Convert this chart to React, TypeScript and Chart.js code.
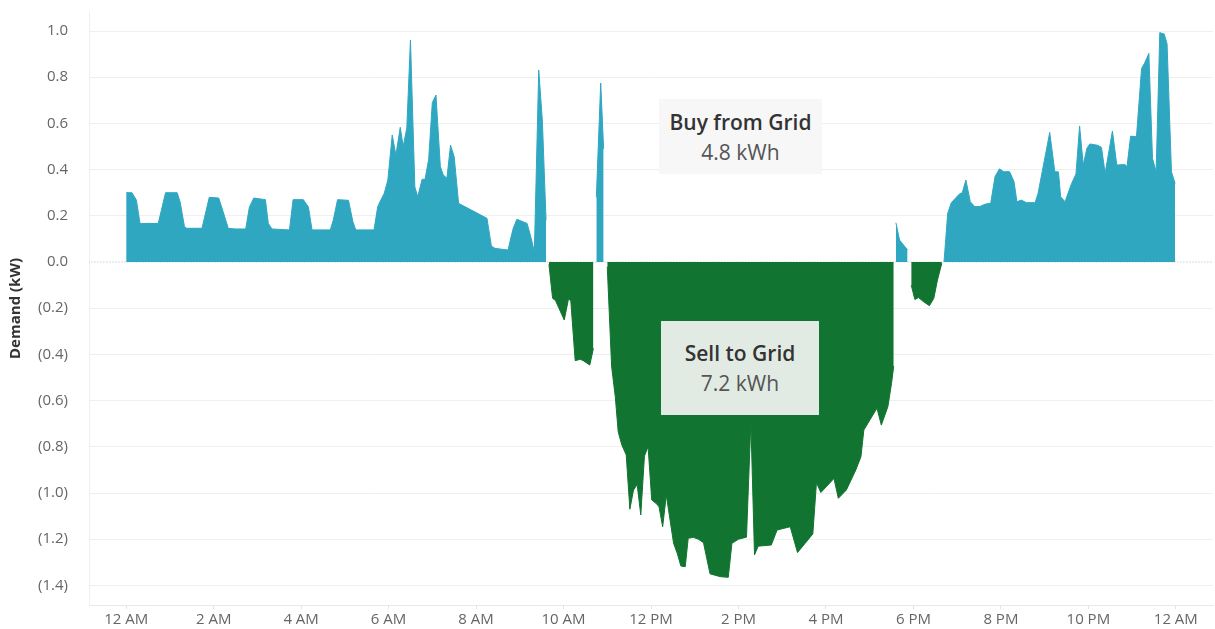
import React, { useEffect, useRef } from 'react';
import { Chart, registerables } from 'chart.js';

Chart.register(...registerables);

// ---- Data (minutes since midnight, kW) ----
// Buy from grid (positive demand); null separates segments
const buyMinutes = [
  0, 8, 14, 19, 44, 54, 70, 74, 80, 83,
  104, 114, 127, 133, 140, 150, 164, 169, 175, 191,
  195, 200, 224, 229, 243, 250, 255, 280, 284, 290,
  305, 311, 315, 340, 345, 348, 354, 359, 365, 370,
  376, 380, 385, 390, 396, 400, 406, 410, 415, 420,
  425, 431, 435, 440, 445, 450, 456, 495, 501, 506,
  524, 527, 531, 536, 550, 555, 560, 566, 571, 576,
  610,
  645, 651, 655,
  900,
  1056, 1061, 1072,
  1100,
  1122, 1127, 1132, 1143, 1147, 1152, 1158, 1164, 1171, 1179,
  1186, 1192, 1198, 1204, 1212, 1218, 1222, 1228, 1235, 1247,
  1251, 1267, 1274, 1279, 1282, 1288, 1297, 1303, 1308, 1313,
  1318, 1322, 1333, 1338, 1343, 1353, 1359, 1370, 1373, 1378,
  1386, 1393, 1397, 1403, 1408, 1413, 1418, 1424, 1428, 1434,
  1439,
];
const buyKw = [
  0.30, 0.30, 0.268, 0.167, 0.167, 0.30, 0.30, 0.26, 0.153, 0.146,
  0.146, 0.28, 0.277, 0.218, 0.146, 0.143, 0.143, 0.237, 0.277, 0.27,
  0.167, 0.143, 0.139, 0.27, 0.27, 0.238, 0.139, 0.139, 0.18, 0.27,
  0.267, 0.175, 0.139, 0.139, 0.238, 0.26, 0.297, 0.355, 0.55, 0.463,
  0.583, 0.5, 0.58, 0.961, 0.325, 0.283, 0.358, 0.358, 0.445, 0.69,
  0.723, 0.413, 0.377, 0.363, 0.506, 0.456, 0.254, 0.189, 0.069, 0.059,
  0.052, 0.095, 0.146, 0.185, 0.167, 0.11, 0.045, 0.831, 0.61, 0.18,
  null,
  0.28, 0.775, 0.49,
  null,
  0.17, 0.095, 0.052,
  null,
  0.0, 0.21, 0.257, 0.294, 0.3, 0.355, 0.261, 0.24, 0.24, 0.251,
  0.254, 0.37, 0.403, 0.391, 0.391, 0.348, 0.261, 0.268, 0.257, 0.257,
  0.297, 0.561, 0.391, 0.39, 0.283, 0.261, 0.34, 0.381, 0.589, 0.42,
  0.492, 0.511, 0.505, 0.496, 0.384, 0.567, 0.42, 0.422, 0.413, 0.545,
  0.542, 0.838, 0.86, 0.903, 0.449, 0.391, 0.993, 0.987, 0.944, 0.391,
  0.34,
];

// Sell to grid (negative demand)
const sellMinutes = [
  580, 585, 589, 601, 607, 610, 616, 623, 627, 636, 641,
  650,
  660, 666, 671, 675, 680, 686, 691, 696, 701, 706,
  711, 716, 721, 728, 731, 736, 741, 751, 756, 761,
  767, 771, 778, 785, 792, 801, 815, 826, 831, 840,
  851, 857, 862, 867, 885, 893, 911, 921, 942, 947,
  953, 971, 977, 988, 1001, 1008, 1012, 1030, 1036, 1045,
  1050, 1053,
  1065,
  1077, 1082, 1087, 1094, 1102, 1108, 1113, 1119,
];
const sellKw = [
  -0.01, -0.157, -0.167, -0.251, -0.157, -0.17, -0.427, -0.421, -0.427, -0.446, -0.374,
  null,
  -0.02, -0.453, -0.583, -0.735, -0.792, -0.835, -1.07, -0.987, -0.963, -1.095,
  -0.84, -0.8, -1.03, -1.048, -1.06, -1.146, -1.009, -1.218, -1.261, -1.316,
  -1.319, -1.196, -1.192, -1.2, -1.215, -1.35, -1.362, -1.365, -1.218, -1.2,
  -1.191, -0.693, -1.268, -1.23, -1.225, -1.16, -1.146, -1.258, -1.177, -0.955,
  -0.998, -0.937, -1.023, -0.987, -0.9, -0.843, -0.727, -0.633, -0.706, -0.626,
  -0.525, -0.45,
  null,
  -0.1, -0.162, -0.154, -0.172, -0.189, -0.157, -0.078, -0.005,
];

const xTickMinutes = [0, 120, 240, 360, 480, 600, 720, 840, 960, 1080, 1200, 1320, 1440];
const xTickLabels = ['12 AM', '2 AM', '4 AM', '6 AM', '8 AM', '10 AM', '12 PM', '2 PM', '4 PM', '6 PM', '8 PM', '10 PM', '12 AM'];
const yTickValues = [-1.4, -1.2, -1.0, -0.8, -0.6, -0.4, -0.2, 0, 0.2, 0.4, 0.6, 0.8, 1.0];

const annotationTitles = ['Buy from Grid', 'Sell to Grid'];
const annotationValues = ['4.8 kWh', '7.2 kWh'];

const BLUE = '#2fa7c1';
const GREEN = '#117430';
const FONT = '"Open Sans", "Noto Sans", sans-serif';

export default function App() {
  const ref = useRef<HTMLCanvasElement | null>(null);

  useEffect(() => {
    if (!ref.current) return;
    const toPts = (xs: number[], ys: (number | null)[]) => xs.map((x, i) => ({ x, y: ys[i] }));
    const chart = new Chart(ref.current, {
      type: 'line',
      data: {
        datasets: [
          {
            label: 'Buy from Grid',
            data: toPts(buyMinutes, buyKw) as any,
            fill: 'origin',
            backgroundColor: BLUE,
            borderColor: BLUE,
            borderWidth: 1,
            pointRadius: 0,
            tension: 0,
            spanGaps: false,
            order: 1,
          },
          {
            label: 'Sell to Grid',
            data: toPts(sellMinutes, sellKw) as any,
            fill: 'origin',
            backgroundColor: GREEN,
            borderColor: GREEN,
            borderWidth: 1,
            pointRadius: 0,
            tension: 0,
            spanGaps: false,
            order: 1,
          },
          {
            label: 'zero',
            data: [{ x: -60, y: 0 }, { x: 1500, y: 0 }] as any,
            borderColor: '#b5b5b5',
            borderWidth: 1,
            borderDash: [1, 2],
            pointRadius: 0,
            fill: false,
            order: 5,
          },
        ],
      },
      options: {
        animation: false,
        responsive: false,
        layout: { padding: { top: 12, right: 2, left: 0, bottom: 0 } },
        plugins: { legend: { display: false }, tooltip: { enabled: false } },
        scales: {
          x: {
            type: 'linear',
            min: -51,
            max: 1491,
            afterFit: (s: any) => {
              s.height = 24;
              s.paddingLeft = 0;
              s.paddingRight = 0;
              s.paddingTop = 0;
              s.paddingBottom = 0;
            },
            afterBuildTicks: (s: any) => { s.ticks = xTickMinutes.map((v) => ({ value: v })); },
            ticks: {
              callback: (_v: any, i: number) => xTickLabels[i],
              color: '#666',
              font: { family: FONT, size: 15 },
              padding: 2,
              maxRotation: 0,
              autoSkip: false,
            },
            grid: {
              display: true,
              drawOnChartArea: false,
              drawTicks: true,
              tickLength: 4,
              tickColor: '#e2e2e2',
            },
            border: { display: true, color: '#e8e8e8' },
          },
          y: {
            type: 'linear',
            min: -1.4848,
            max: 1.0823,
            afterFit: (s: any) => {
              s.width = 89;
              s.paddingTop = 0;
              s.paddingBottom = 0;
              s.paddingLeft = 0;
              s.paddingRight = 0;
            },
            afterBuildTicks: (s: any) => { s.ticks = yTickValues.map((v) => ({ value: v })); },
            ticks: {
              callback: (v: any) => {
                const n = Number(v);
                return n < -1e-9 ? `(${Math.abs(n).toFixed(1)})` : Math.abs(n).toFixed(1);
              },
              color: '#666',
              font: { family: FONT, size: 15 },
              padding: 21,
            },
            grid: {
              color: (ctx: any) => (ctx.tick && Math.abs(ctx.tick.value) < 1e-9 ? 'rgba(0,0,0,0)' : '#efefef'),
              drawTicks: false,
            },
            border: { display: true, color: '#efefef' },
            title: {
              display: true,
              text: 'Demand (kW)',
              color: '#333',
              font: { family: FONT, size: 15, weight: 'bold' },
              padding: { top: 7, bottom: 0 },
            },
          },
        },
      },
    });
    return () => chart.destroy();
  }, []);

  const boxStyle = (left: number, top: number, width: number, height: number, bg: string, padTop: number): React.CSSProperties => ({
    position: 'absolute',
    left,
    top,
    width,
    height,
    background: bg,
    boxSizing: 'border-box',
    paddingTop: padTop,
    textAlign: 'center',
    fontFamily: FONT,
    lineHeight: '30px',
  });

  return (
    <div style={{ position: 'absolute', left: 0, top: 0, width: 1215, height: 629, background: '#fff' }}>
      <canvas ref={ref} width={1215} height={629} style={{ display: 'block' }} />
      <div style={boxStyle(659, 99, 163, 75, '#f7f7f7', 8)}>
        <div style={{ fontSize: 21, fontWeight: 600, color: '#333' }}>{annotationTitles[0]}</div>
        <div style={{ fontSize: 21, color: '#555' }}>{annotationValues[0]}</div>
      </div>
      <div style={boxStyle(661, 321, 158, 94, '#e1ebe4', 17)}>
        <div style={{ fontSize: 21, fontWeight: 600, color: '#333' }}>{annotationTitles[1]}</div>
        <div style={{ fontSize: 21, color: '#555' }}>{annotationValues[1]}</div>
      </div>
    </div>
  );
}
